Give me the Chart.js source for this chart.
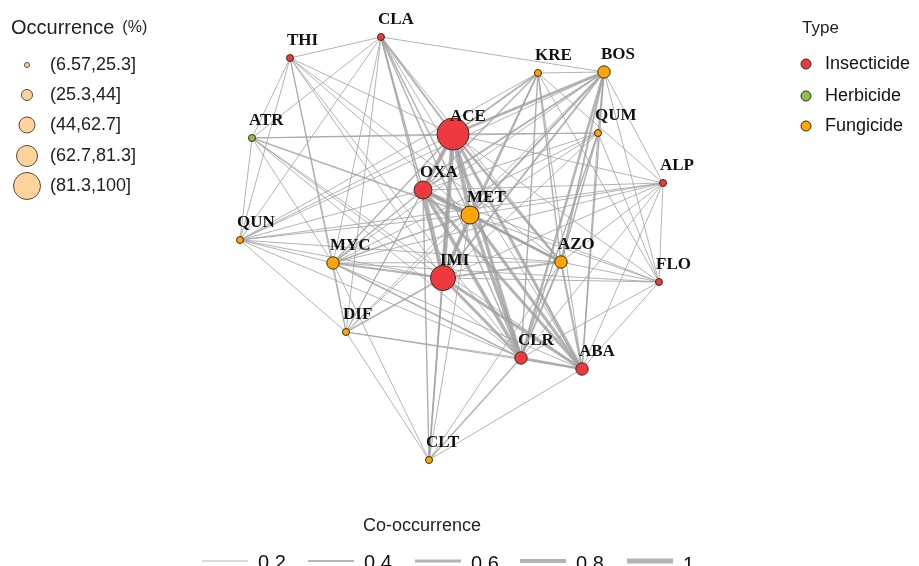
<!DOCTYPE html>
<html>
<head>
<meta charset="utf-8">
<script src="https://cdn.jsdelivr.net/npm/chart.js@4.4.1/dist/chart.umd.min.js"></script>
<style>
  body { margin: 0; background: #fff; }
  #wrap { position: relative; width: 919px; height: 566px; }
</style>
</head>
<body>
<div id="wrap"><canvas id="net"></canvas></div>
<script>
// DATA
// node layout coordinates (same units as the plot, y going down)
const nodes = ["CLA", "THI", "KRE", "BOS", "ACE", "QUM", "ATR", "ALP", "OXA", "MET",
               "QUN", "MYC", "IMI", "AZO", "FLO", "DIF", "CLR", "ABA", "CLT"];
const nodeX = [381, 290, 538, 604, 453, 598, 252, 663, 423, 470, 240, 333, 443, 561, 659, 346, 521, 582, 429];
const nodeY = [37, 58, 73, 72, 134, 133, 138, 183, 190, 215, 240, 263, 278, 262, 282, 332, 358, 369, 460];
const nodeType = ["Insecticide", "Insecticide", "Fungicide", "Fungicide", "Insecticide", "Fungicide",
                  "Herbicide", "Insecticide", "Insecticide", "Fungicide", "Fungicide", "Fungicide",
                  "Insecticide", "Fungicide", "Insecticide", "Fungicide", "Insecticide", "Insecticide", "Fungicide"];
const occurrence = [18, 16, 15, 36, 92, 14, 12, 15, 58, 52, 13, 33, 74, 38, 14, 16, 34, 35, 12];

const occBins = ["(6.57,25.3]", "(25.3,44]", "(44,62.7]", "(62.7,81.3]", "(81.3,100]"];
const occBreaks = [6.57, 25.3, 44, 62.7, 81.3, 100];
const types = ["Insecticide", "Herbicide", "Fungicide"];
const coLevels = [0.2, 0.4, 0.6, 0.8, 1];

// co-occurrence edges [from, to, weight]
const edges = [
  ["ACE","OXA",0.8], ["ACE","IMI",0.9], ["ACE","MET",0.8], ["OXA","MET",0.8], ["OXA","IMI",0.8],
  ["MET","IMI",0.7], ["ACE","CLR",0.7], ["OXA","CLR",0.7], ["MET","CLR",0.7], ["IMI","CLR",0.6],
  ["ACE","ABA",0.6], ["OXA","ABA",0.6], ["MET","ABA",0.6], ["IMI","ABA",0.6], ["CLR","ABA",0.5],
  ["ACE","AZO",0.5], ["OXA","AZO",0.5], ["MET","AZO",0.5], ["IMI","AZO",0.4], ["AZO","CLR",0.4],
  ["AZO","ABA",0.4], ["ACE","BOS",0.5], ["OXA","BOS",0.4], ["MET","BOS",0.4], ["IMI","BOS",0.4],
  ["CLR","BOS",0.5], ["AZO","BOS",0.4], ["ABA","BOS",0.3], ["MYC","IMI",0.4], ["MYC","OXA",0.3],
  ["MYC","ACE",0.3], ["MYC","MET",0.3], ["OXA","CLT",0.3], ["IMI","CLT",0.3], ["ACE","CLT",0.3],
  ["CLA","ACE",0.4], ["CLA","OXA",0.3], ["CLA","IMI",0.3], ["CLA","MET",0.3], ["CLA","CLR",0.3],
  ["ACE","KRE",0.4], ["OXA","KRE",0.3], ["MET","KRE",0.3], ["IMI","KRE",0.3], ["KRE","CLR",0.3],
  ["KRE","AZO",0.3], ["KRE","ABA",0.2], ["KRE","BOS",0.2], ["KRE","ALP",0.2], ["KRE","FLO",0.2],
  ["BOS","QUM",0.3], ["BOS","ALP",0.2], ["BOS","FLO",0.2], ["BOS","MYC",0.2], ["BOS","QUN",0.2],
  ["CLA","BOS",0.2], ["CLA","THI",0.2], ["CLA","ATR",0.2], ["CLA","QUN",0.2], ["CLA","MYC",0.2],
  ["CLA","DIF",0.2], ["CLA","ABA",0.2], ["CLA","AZO",0.2], ["THI","ATR",0.2], ["THI","QUN",0.2],
  ["THI","ACE",0.2], ["THI","MET",0.2], ["THI","IMI",0.2], ["THI","MYC",0.2], ["THI","DIF",0.2],
  ["THI","CLR",0.2], ["THI","AZO",0.2], ["ATR","ACE",0.2], ["ATR","QUM",0.2], ["ATR","QUN",0.2],
  ["ATR","MYC",0.2], ["ATR","MET",0.3], ["ATR","IMI",0.2], ["ATR","CLR",0.2], ["ATR","ABA",0.2],
  ["QUN","OXA",0.2], ["QUN","ACE",0.2], ["QUN","MET",0.2], ["QUN","IMI",0.2], ["QUN","MYC",0.2],
  ["QUN","DIF",0.2], ["QUN","AZO",0.2], ["QUN","CLR",0.2], ["QUN","KRE",0.2], ["MYC","DIF",0.2],
  ["MYC","CLR",0.3], ["MYC","ABA",0.2], ["MYC","AZO",0.2], ["MYC","ALP",0.2], ["DIF","OXA",0.2],
  ["DIF","IMI",0.3], ["DIF","ACE",0.2], ["DIF","CLR",0.2], ["DIF","ABA",0.2], ["DIF","CLT",0.2],
  ["DIF","MET",0.2], ["DIF","BOS",0.2], ["CLT","MET",0.2], ["CLT","CLR",0.3], ["CLT","ABA",0.2],
  ["CLT","AZO",0.2], ["CLT","MYC",0.2], ["QUM","ACE",0.2], ["QUM","OXA",0.2], ["QUM","MET",0.2],
  ["QUM","IMI",0.2], ["QUM","AZO",0.3], ["QUM","CLR",0.3], ["QUM","ABA",0.2], ["QUM","FLO",0.2],
  ["QUM","MYC",0.2], ["ALP","ACE",0.2], ["ALP","OXA",0.2], ["ALP","MET",0.2], ["ALP","IMI",0.2],
  ["ALP","AZO",0.2], ["ALP","CLR",0.2], ["ALP","ABA",0.2], ["ALP","FLO",0.2], ["ALP","QUN",0.2],
  ["FLO","ACE",0.2], ["FLO","MET",0.2], ["FLO","IMI",0.2], ["FLO","AZO",0.2], ["FLO","CLR",0.2],
  ["FLO","ABA",0.2], ["FLO","OXA",0.2], ["FLO","MYC",0.2]
];

// STYLE
const typeColor = { Insecticide: "#ee3a3f", Herbicide: "#8dbf4c", Fungicide: "#ffa500" };
const binRadius = [3.5, 6.2, 9, 12.5, 16];       // node sizes in the network
const legendRadius = [2.5, 5.5, 8, 10.5, 13.5];  // circles in the size legend
const edgeColor = "rgba(160,160,160,0.8)";

function binOf(v) {
  for (let i = 0; i < occBins.length; i++) {
    if (v <= occBreaks[i + 1]) return i;
  }
  return occBins.length - 1;
}

// BUILD DATASETS
const idx = {};
nodes.forEach((n, i) => { idx[n] = i; });

const edgeSets = edges.map(([a, b, w]) => ({
  type: "line",
  data: [{ x: nodeX[idx[a]], y: nodeY[idx[a]] }, { x: nodeX[idx[b]], y: nodeY[idx[b]] }],
  borderColor: edgeColor,
  borderWidth: w * 5,
  pointRadius: 0,
  fill: false,
  order: 1,
}));

const nodeSet = {
  type: "scatter",
  data: nodes.map((n, i) => ({ x: nodeX[i], y: nodeY[i] })),
  backgroundColor: nodeType.map(t => typeColor[t]),
  borderColor: "#3a2a20",
  borderWidth: 1,
  pointRadius: occurrence.map(v => binRadius[binOf(v)]),
  order: 0,
};

// labels and legends
const decor = {
  id: "decor",
  afterDatasetsDraw(chart) {
    const ctx = chart.ctx;
    const xs = chart.scales.x, ys = chart.scales.y;
    ctx.save();

    // node names
    ctx.fillStyle = "#111";
    ctx.font = "bold 17px 'Liberation Serif', serif";
    ctx.textAlign = "left";
    ctx.textBaseline = "middle";
    nodes.forEach((n, i) => {
      ctx.fillText(n, xs.getPixelForValue(nodeX[i]) - 3, ys.getPixelForValue(nodeY[i]) - 17);
    });

    // occurrence legend
    ctx.font = "20px 'Liberation Sans', Arial, sans-serif";
    ctx.fillStyle = "#222";
    ctx.fillText("Occurrence", 11, 28);
    const w = ctx.measureText("Occurrence").width;
    ctx.font = "16px 'Liberation Sans', Arial, sans-serif";
    ctx.fillText("(%)", 11 + w + 8, 28);
    const rowY = [65, 95, 125, 156, 186];
    ctx.font = "18px 'Liberation Sans', Arial, sans-serif";
    occBins.forEach((lab, i) => {
      ctx.beginPath();
      ctx.arc(27, rowY[i], legendRadius[i], 0, Math.PI * 2);
      ctx.fillStyle = "#ffd39b";
      ctx.fill();
      ctx.lineWidth = 1;
      ctx.strokeStyle = "#5a4a3a";
      ctx.stroke();
      ctx.fillStyle = "#222";
      ctx.fillText(lab, 50, rowY[i]);
    });

    // type legend
    ctx.font = "17px 'Liberation Sans', Arial, sans-serif";
    ctx.fillText("Type", 802, 28);
    const typeY = [64, 96, 126];
    ctx.font = "18px 'Liberation Sans', Arial, sans-serif";
    types.forEach((t, i) => {
      ctx.beginPath();
      ctx.arc(806, typeY[i], 5, 0, Math.PI * 2);
      ctx.fillStyle = typeColor[t];
      ctx.fill();
      ctx.strokeStyle = "#3a2a20";
      ctx.lineWidth = 1;
      ctx.stroke();
      ctx.fillStyle = "#111";
      ctx.fillText(t, 825, typeY[i]);
    });

    // co-occurrence legend
    ctx.font = "18px 'Liberation Sans', Arial, sans-serif";
    ctx.fillStyle = "#222";
    ctx.textAlign = "center";
    ctx.fillText("Co-occurrence", 422, 526);
    ctx.textAlign = "left";
    ctx.font = "20px 'Liberation Sans', Arial, sans-serif";
    const segX = [202, 308, 415, 520, 627];
    coLevels.forEach((lv, i) => {
      ctx.beginPath();
      ctx.moveTo(segX[i], 561);
      ctx.lineTo(segX[i] + 46, 561);
      ctx.strokeStyle = edgeColor;
      ctx.lineWidth = lv * 5;
      ctx.stroke();
      ctx.fillStyle = "#111";
      ctx.fillText(String(lv), segX[i] + 56, 563 + i * 0.6);
    });

    ctx.restore();
  }
};

const chart = new Chart(document.getElementById("net"), {
  data: { datasets: [nodeSet, ...edgeSets] },
  options: {
    responsive: true,
    maintainAspectRatio: false,
    animation: false,
    clip: false,
    layout: { padding: 0, autoPadding: false },
    plugins: { legend: { display: false }, tooltip: { enabled: false } },
    scales: {
      x: { type: "linear", min: 0, max: 919, display: false },
      y: { type: "linear", min: 0, max: 566, reverse: true, display: false },
    },
  },
  plugins: [decor],
});
</script>
</body>
</html>
